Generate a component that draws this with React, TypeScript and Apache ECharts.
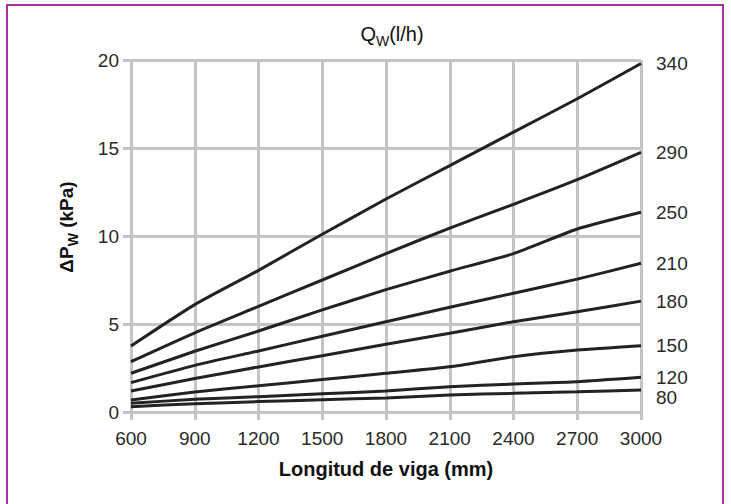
import React, { useEffect, useRef } from "react";
import * as echarts from "echarts";

const lengths = [600, 900, 1200, 1500, 1800, 2100, 2400, 2700, 3000];
const flowLabels = ["340", "290", "250", "210", "180", "150", "120", "80"];
const q340 = [3.75, 6.1, 8.05, 10.1, 12.1, 14.0, 15.9, 17.8, 19.8];
const q290 = [2.86, 4.5, 6.0, 7.5, 9.0, 10.45, 11.8, 13.2, 14.75];
const q250 = [2.2, 3.45, 4.6, 5.8, 6.95, 8.0, 9.0, 10.4, 11.35];
const q210 = [1.67, 2.65, 3.47, 4.3, 5.13, 5.95, 6.75, 7.55, 8.45];
const q180 = [1.19, 1.9, 2.56, 3.2, 3.85, 4.47, 5.13, 5.7, 6.3];
const q150 = [0.68, 1.14, 1.49, 1.84, 2.2, 2.57, 3.14, 3.52, 3.77];
const q120 = [0.5, 0.72, 0.87, 1.04, 1.19, 1.44, 1.59, 1.72, 1.97];
const q80 = [0.3, 0.47, 0.59, 0.7, 0.8, 0.97, 1.06, 1.15, 1.25];
const seriesValues = [q340, q290, q250, q210, q180, q150, q120, q80];
const labelOffsets = [0, 0, 0, 0, 0, 0, 0, 7];

const FONT = "'Liberation Sans', Arial, sans-serif";
const GRID = "#c4c4c4";

export default function App() {
  const ref = useRef<HTMLDivElement>(null);
  useEffect(() => {
    if (!ref.current) return;
    const chart = echarts.init(ref.current, undefined, { renderer: "svg" });
    const series = seriesValues.map((vals, i) => ({
      type: "line",
      name: flowLabels[i],
      data: vals.map((v, j) => [lengths[j], v]),
      symbol: "none",
      smooth: 0.2,
      lineStyle: { color: "#222", width: 3 },
      itemStyle: { color: "#222" },
      endLabel: {
        show: true,
        formatter: "{a}",
        distance: 15,
        offset: [0, labelOffsets[i]],
        color: "#2a2a2a",
        fontSize: 19,
        fontFamily: FONT,
      },
      z: 3,
    }));
    chart.setOption({
      animation: false,
      backgroundColor: "#fff",
      grid: { left: 131, right: 90, top: 60, bottom: 92, containLabel: false },
      xAxis: {
        type: "value",
        min: 600,
        max: 3000,
        interval: 300,
        axisLine: { show: true, lineStyle: { color: GRID, width: 3 } },
        axisTick: { show: true, length: 8, lineStyle: { color: GRID, width: 3 } },
        splitLine: { show: true, lineStyle: { color: GRID, width: 3 } },
        axisLabel: {
          color: "#2a2a2a",
          fontSize: 19,
          fontFamily: FONT,
          margin: 17,
          formatter: (v: number) => String(v),
        },
      },
      yAxis: {
        type: "value",
        min: 0,
        max: 20,
        interval: 5,
        axisLine: { show: false },
        axisTick: { show: true, length: 8, lineStyle: { color: GRID, width: 3 } },
        splitLine: { show: true, lineStyle: { color: GRID, width: 3 } },
        axisLabel: { color: "#2a2a2a", fontSize: 19, fontFamily: FONT, margin: 12 },
      },
      graphic: [
        {
          type: "rect",
          shape: { x: 7, y: 5, width: 716, height: 510 },
          style: { fill: "none", stroke: "#a5329d", lineWidth: 2 },
          silent: true,
        },
        {
          type: "text",
          x: 392,
          y: 34,
          style: {
            text: "{a|Q}{b|W}{a|(l/h)}",
            textAlign: "center",
            textVerticalAlign: "middle",
            rich: {
              a: { fontSize: 20, lineHeight: 28, verticalAlign: "middle", fontFamily: FONT, fill: "#111" },
              b: { fontSize: 14, lineHeight: 14, verticalAlign: "bottom", fontFamily: FONT, fill: "#111" },
            },
          },
        },
        {
          type: "text",
          x: 66,
          y: 227,
          rotation: Math.PI / 2,
          style: {
            text: "{a|ΔP}{b|W}{a| (kPa)}",
            textAlign: "center",
            textVerticalAlign: "middle",
            rich: {
              a: { fontSize: 19, fontWeight: "bold", lineHeight: 28, verticalAlign: "middle", fontFamily: FONT, fill: "#111" },
              b: { fontSize: 14, fontWeight: "bold", lineHeight: 14, verticalAlign: "bottom", fontFamily: FONT, fill: "#111" },
            },
          },
        },
        {
          type: "text",
          x: 386,
          y: 469,
          style: {
            text: "Longitud de viga (mm)",
            textAlign: "center",
            textVerticalAlign: "middle",
            fontSize: 20,
            fontWeight: "bold",
            fontFamily: FONT,
            fill: "#111",
          },
        },
      ],
      series,
    });
    return () => chart.dispose();
  }, []);
  return (
    <div
      ref={ref}
      style={{ position: "fixed", left: 0, top: 0, width: 731, height: 504, background: "#fff" }}
    />
  );
}
